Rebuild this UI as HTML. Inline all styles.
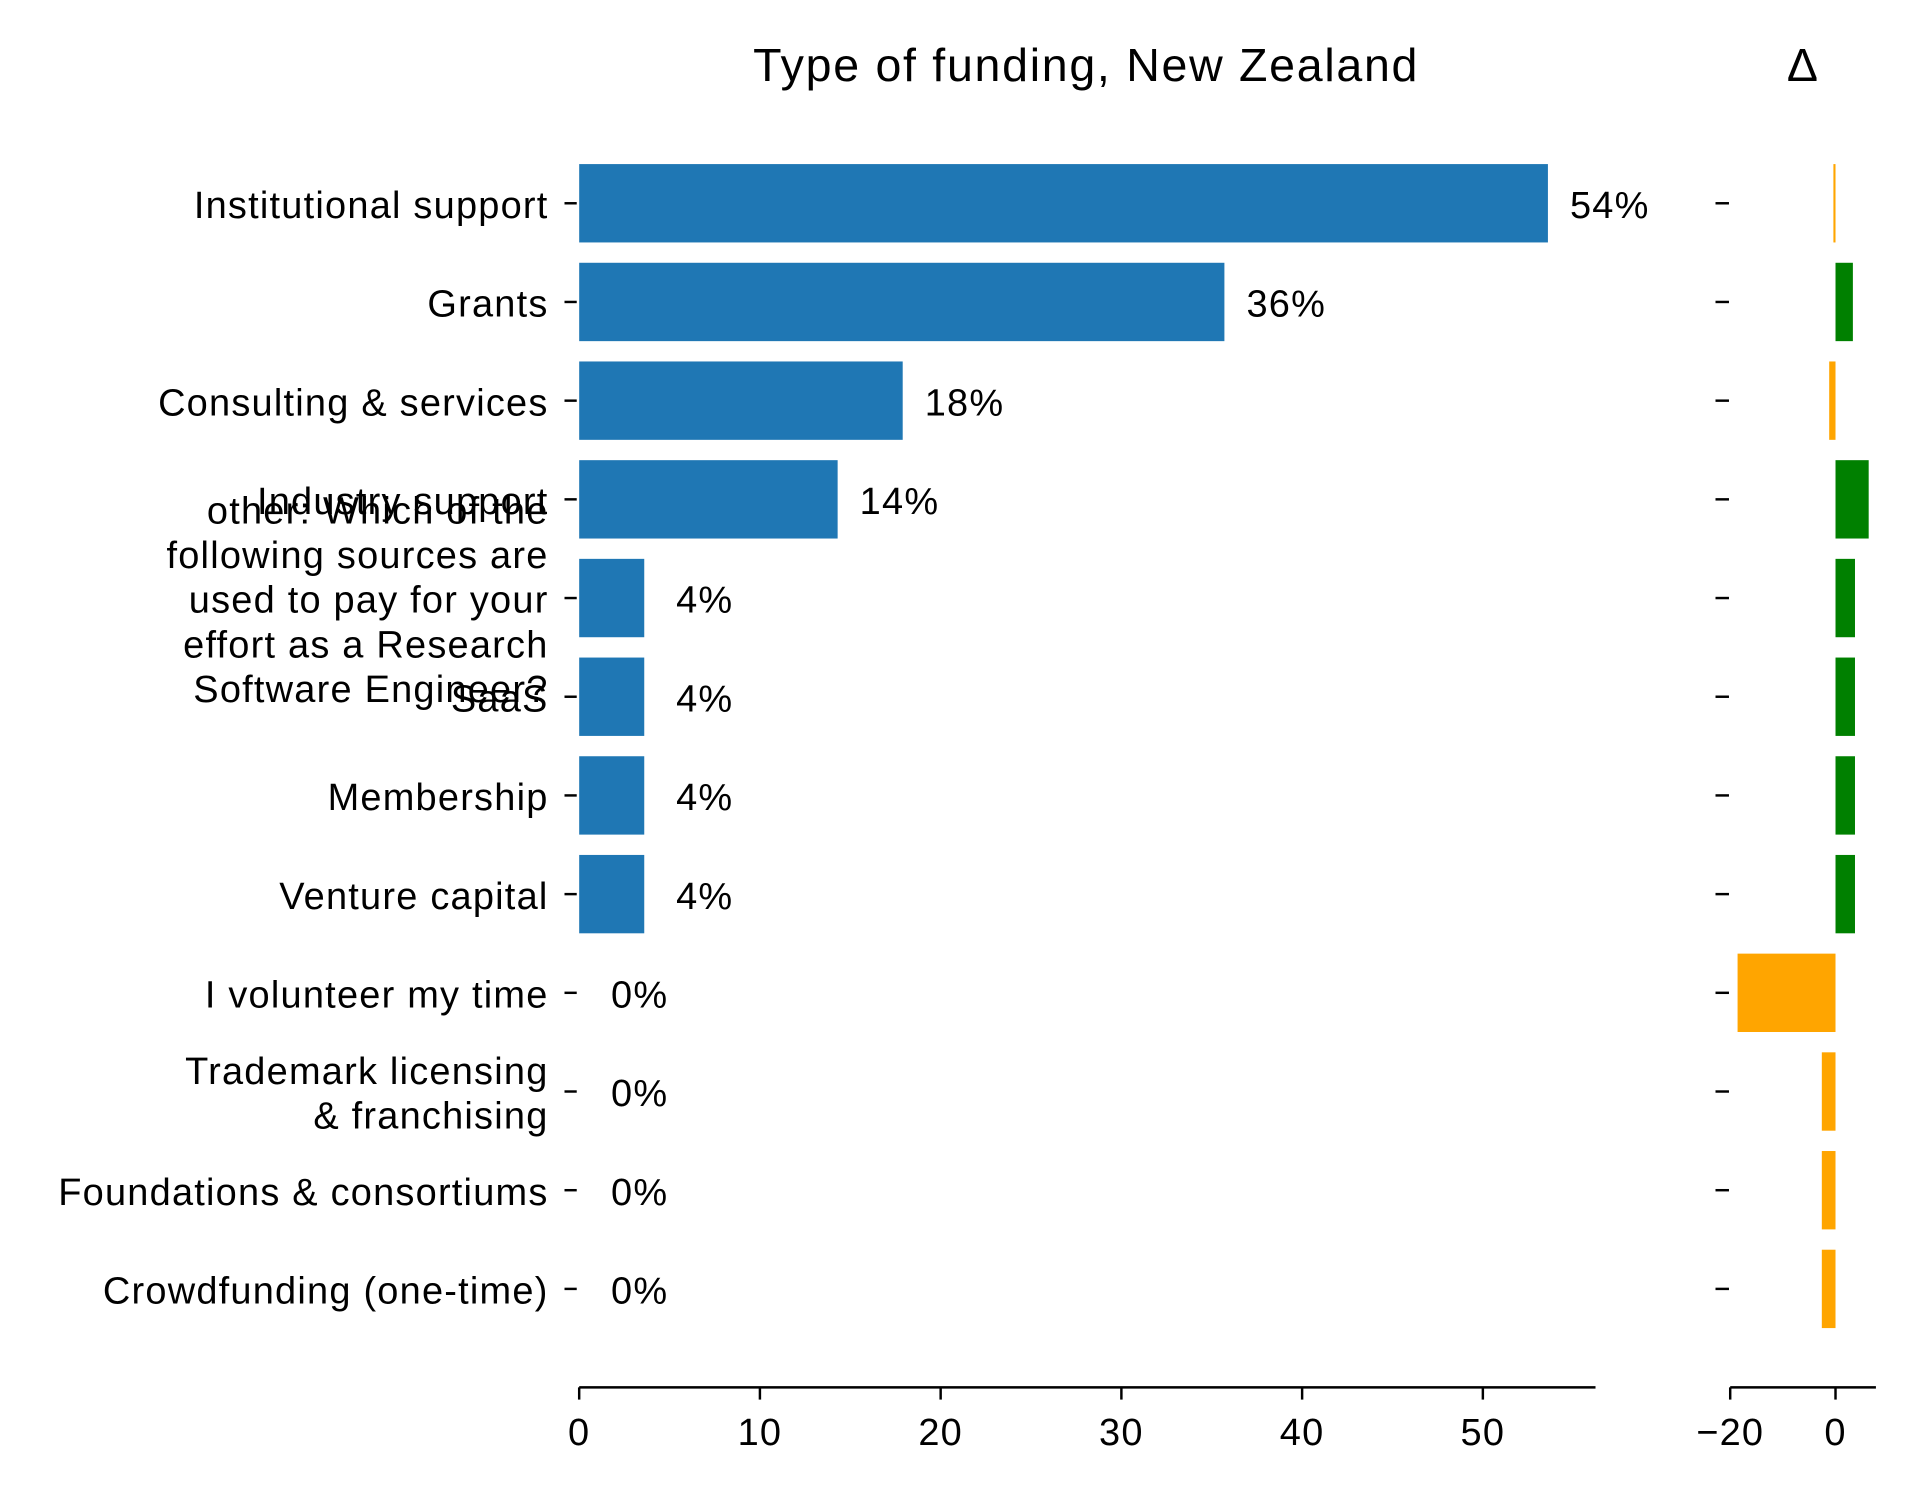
<!DOCTYPE html>
<html><head><meta charset="utf-8"><style>
html,body{margin:0;padding:0;background:#fff;width:1920px;height:1500px;overflow:hidden}
svg{display:block}
text{font-family:"Liberation Sans",Arial,sans-serif;fill:#000}
</style></head><body>
<svg id="chart" width="1920" height="1500" viewBox="0 0 1568 1225" xmlns="http://www.w3.org/2000/svg">
<text x="887" y="66" font-size="38" letter-spacing="1.4" text-anchor="middle">Type of funding, New Zealand</text>
<text x="1472" y="66" font-size="38" text-anchor="middle">Δ</text>
<g id="main"></g><g id="delta"></g>
</svg>
<script>
const categories = [["Institutional support"],["Grants"],["Consulting & services"],["Industry support"],["other: Which of the","following sources are","used to pay for your","effort as a Research","Software Engineer?"],["SaaS"],["Membership"],["Venture capital"],["I volunteer my time"],["Trademark licensing","& franchising"],["Foundations & consortiums"],["Crowdfunding (one-time)"]];
const values = [53.6,35.7,17.9,14.3,3.6,3.6,3.6,3.6,0,0,0,0];
const valueLabels = ["54%","36%","18%","14%","4%","4%","4%","4%","0%","0%","0%","0%"];
const deltas = [-0.4,3.3,-1.2,6.3,3.7,3.7,3.7,3.7,-18.6,-2.6,-2.6,-2.6];
const xTicks = [0,10,20,30,40,50];
const dTicks = [-20,0];

const NS="http://www.w3.org/2000/svg";
const X0=473, XS=14.76, D0=1499, DS=4.3, Y0=166, YS=80.6, BH=64, AXY=1133;
const FS=31, LS=1;
const xs=v=>X0+v*XS, ds=v=>D0+v*DS, ys=i=>Y0+i*YS;
function mk(parent,tag,attrs){const e=document.createElementNS(NS,tag);for(const k in attrs)e.setAttribute(k,attrs[k]);parent.appendChild(e);return e;}
const main=document.getElementById('main'), delta=document.getElementById('delta');

categories.forEach((lines,i)=>{
  const y=ys(i);
  const b=mk(main,'rect',{x:X0,y:y-BH/2,width:Math.max(0,xs(values[i])-X0),height:BH,fill:'#1f77b4'});
  
  
  const t=mk(main,'line',{x1:461,x2:471,y1:y,y2:y,stroke:'#000','stroke-width':2});
  
  
  const lbl=mk(main,'text',{x:448,'font-size':FS,'letter-spacing':LS,'text-anchor':'end'});
  
  
  const lh=36.5, top=y+12-(lines.length-1)*lh/2;
  lines.forEach((s,j)=>{const ts=mk(lbl,'tspan',{x:448,y:top+j*lh});ts.textContent=s;});
  const vl=mk(main,'text',{x:xs(values[i])+(values[i]>=5?18:26),y:y+12,'font-size':FS,'letter-spacing':LS});
  
  
  vl.textContent=valueLabels[i];
  const d=deltas[i];
  const db=mk(delta,'rect',{x:Math.min(ds(d),D0),y:y-BH/2,width:Math.abs(ds(d)-D0),height:BH,fill:d>=0?'#008000':'#ffa500'});
  
  
  const dt=mk(delta,'line',{x1:1401,x2:1412,y1:y,y2:y,stroke:'#000','stroke-width':2});
  
  
});
const ax=mk(main,'line',{x1:X0,x2:1303,y1:AXY,y2:AXY,stroke:'#000','stroke-width':2});


xTicks.forEach(v=>{
  const l=mk(main,'line',{x1:xs(v),x2:xs(v),y1:AXY,y2:AXY+10,stroke:'#000','stroke-width':2});
  
  
  const t=mk(main,'text',{x:xs(v),y:AXY+47,'font-size':FS,'letter-spacing':LS,'text-anchor':'middle'});
  
  
  t.textContent=String(v);
});
const dax=mk(delta,'line',{x1:ds(-20),x2:1532,y1:AXY,y2:AXY,stroke:'#000','stroke-width':2});


dTicks.forEach(v=>{
  const l=mk(delta,'line',{x1:ds(v),x2:ds(v),y1:AXY,y2:AXY+10,stroke:'#000','stroke-width':2});
  
  
  const t=mk(delta,'text',{x:ds(v),y:AXY+47,'font-size':FS,'letter-spacing':LS,'text-anchor':'middle'});
  
  
  t.textContent=v<0?'\u2212'+Math.abs(v):String(v);
});
</script>
</body></html>
